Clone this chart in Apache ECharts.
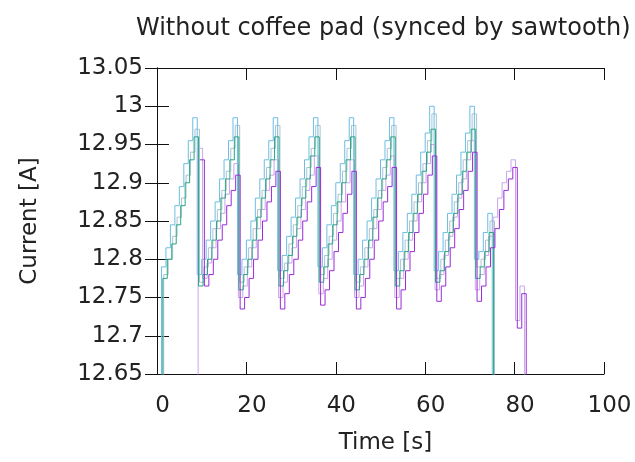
<!DOCTYPE html>
<html>
<head>
<meta charset="utf-8">
<script src="https://cdn.jsdelivr.net/npm/echarts@6/dist/echarts.min.js"></script>
<style>html,body{margin:0;padding:0;background:#fff}#c{width:635px;height:462px}</style>
</head>
<body>
<div id="c"></div>
<script>
// ---- data (1 s samples; each series starts at its own synced time) ----
const titleText = 'Without coffee pad (synced by sawtooth)';
const xName = 'Time [s]';
const yName = 'Current [A]';
const xTicks = [0, 20, 40, 60, 80, 100];
const yTicks = [12.65, 12.7, 12.75, 12.8, 12.85, 12.9, 12.95, 13, 13.05];

const blueStart = 0;
const blueVals = [12.60,
  12.79,12.815,12.845,12.87,12.895,12.925,12.955,12.985,
  12.78,12.80,12.825,12.85,12.875,12.905,12.93,12.955,12.985,
  12.78,12.80,12.825,12.85,12.88,12.905,12.93,12.955,12.985,
  12.785,12.805,12.83,12.855,12.88,12.905,12.93,12.96,12.985,
  12.79,12.815,12.845,12.87,12.90,12.925,12.955,12.985,
  12.78,12.80,12.825,12.85,12.88,12.905,12.93,12.955,12.985,
  12.785,12.81,12.835,12.86,12.885,12.91,12.94,12.965,13.0,
  12.785,12.81,12.835,12.86,12.885,12.91,12.94,12.965,13.0,
  12.80,12.81,12.835,12.86,12.60];

const slateStart = 0.5;
const slateVals = [12.60,
  12.78,12.80,12.83,12.855,12.88,12.91,12.94,12.97,
  12.77,12.79,12.815,12.84,12.865,12.89,12.915,12.945,12.975,
  12.77,12.79,12.815,12.84,12.865,12.89,12.92,12.945,12.975,
  12.775,12.795,12.82,12.845,12.87,12.895,12.92,12.945,12.975,
  12.78,12.805,12.83,12.86,12.885,12.915,12.945,12.975,
  12.77,12.79,12.815,12.84,12.865,12.89,12.92,12.945,12.975,
  12.775,12.80,12.825,12.85,12.875,12.90,12.925,12.955,12.99,
  12.775,12.80,12.825,12.85,12.875,12.90,12.93,12.955,12.99,
  12.79,12.80,12.825,12.85,12.60];

const tealStart = 0.3;
const tealVals = [12.60,
  12.775,12.80,12.82,12.845,12.87,12.90,12.93,12.96,
  12.765,12.78,12.80,12.825,12.85,12.88,12.905,12.93,12.96,
  12.76,12.78,12.80,12.825,12.855,12.88,12.905,12.93,12.96,
  12.765,12.785,12.805,12.83,12.855,12.88,12.905,12.935,12.96,
  12.77,12.79,12.82,12.845,12.875,12.90,12.93,12.96,
  12.76,12.78,12.80,12.825,12.855,12.88,12.905,12.93,12.96,
  12.765,12.785,12.81,12.835,12.86,12.885,12.915,12.94,12.97,
  12.77,12.785,12.81,12.835,12.86,12.885,12.915,12.94,12.97,
  12.775,12.79,12.81,12.835,12.60];

const lavenderStart = 8.2;
const lavenderVals = [12.60,
  12.945,
  12.775,12.795,12.815,12.84,12.86,12.885,12.905,12.925,
  12.75,12.765,12.79,12.815,12.84,12.865,12.89,12.91,12.93,
  12.75,12.77,12.795,12.815,12.84,12.865,12.89,12.91,12.935,
  12.755,12.775,12.80,12.825,12.85,12.875,12.90,12.93,
  12.75,12.765,12.79,12.815,12.84,12.865,12.89,12.91,12.935,
  12.75,12.775,12.80,12.825,12.85,12.875,12.90,12.925,12.95,
  12.76,12.78,12.805,12.83,12.855,12.88,12.905,12.93,12.955,
  12.76,12.78,12.805,12.83,12.855,12.88,12.90,12.915,12.93,
  12.72,12.765,12.60];

const purpleStart = 9.6;
const purpleVals = [12.93,
  12.765,12.78,12.80,12.825,12.845,12.87,12.89,12.91,
  12.735,12.75,12.775,12.80,12.825,12.85,12.875,12.895,12.915,
  12.735,12.755,12.78,12.80,12.825,12.85,12.875,12.895,12.92,
  12.74,12.76,12.785,12.81,12.835,12.86,12.885,12.915,
  12.735,12.75,12.775,12.80,12.825,12.85,12.875,12.895,12.92,
  12.735,12.76,12.785,12.81,12.835,12.86,12.885,12.91,12.935,
  12.745,12.765,12.79,12.815,12.84,12.865,12.89,12.915,12.94,
  12.745,12.765,12.79,12.815,12.84,12.865,12.89,12.905,12.92,
  12.71,12.755,12.60];

// ---- build ----
function pts(start, vals){ return vals.map((v,i)=>[start+i, v]); }
const FONT = 'DejaVu Sans';
function mk(name, start, vals, color){
  return {name, type:'line', step:'end', data:pts(start, vals), showSymbol:false,
    symbol:'none', clip:true, lineStyle:{width:1, color}, itemStyle:{color}, z:2};
}
const chart = echarts.init(document.getElementById('c'));
const fmtY = v => String(parseFloat(Number(v).toFixed(2)));
const axisCommon = {
  axisLine:{show:true, lineStyle:{color:'#111', width:1}},
  axisTick:{show:true, inside:true, length:12, lineStyle:{color:'#111', width:1}},
  splitLine:{show:false}
};
chart.setOption({
  animation:false,
  backgroundColor:'#fff',
  title:{text:titleText, left:131, top:12,
    textStyle:{fontFamily:FONT, fontSize:24, fontWeight:'normal', color:'#222'}},
  grid:{left:157, right:31, top:68, bottom:88, containLabel:false},
  xAxis:[
    Object.assign({type:'value', min:xTicks[0], max:xTicks[xTicks.length-1], interval:20, position:'bottom',
      name:xName, nameLocation:'middle', nameGap:58,
      nameTextStyle:{fontFamily:FONT, fontSize:23, color:'#222', padding:[0,0,0,10]},
      axisLabel:{fontFamily:FONT, fontSize:23, color:'#222', margin:21, padding:[0,0,0,11]}}, axisCommon),
    Object.assign({type:'value', min:xTicks[0], max:xTicks[xTicks.length-1], interval:20, position:'top',
      axisLabel:{show:false}}, axisCommon)
  ],
  yAxis:[
    Object.assign({type:'value', min:yTicks[0], max:yTicks[yTicks.length-1], interval:0.05, position:'left',
      name:yName, nameLocation:'middle', nameGap:115, nameRotate:90,
      nameTextStyle:{fontFamily:FONT, fontSize:23, color:'#222'},
      axisLabel:{fontFamily:FONT, fontSize:23, color:'#222', margin:14, formatter:fmtY}}, axisCommon),
    Object.assign({type:'value', min:yTicks[0], max:yTicks[yTicks.length-1], interval:0.05, position:'right',
      axisLabel:{show:false}}, axisCommon)
  ],
  series:[
    mk('slate', slateStart, slateVals, '#a9c4cf'),
    mk('blue', blueStart, blueVals, '#6cbde6'),
    mk('lavender', lavenderStart, lavenderVals, '#c9a6ea'),
    mk('teal', tealStart, tealVals, '#2aa482'),
    mk('purple', purpleStart, purpleVals, '#9a2bd8')
  ]
});
</script>
</body>
</html>
